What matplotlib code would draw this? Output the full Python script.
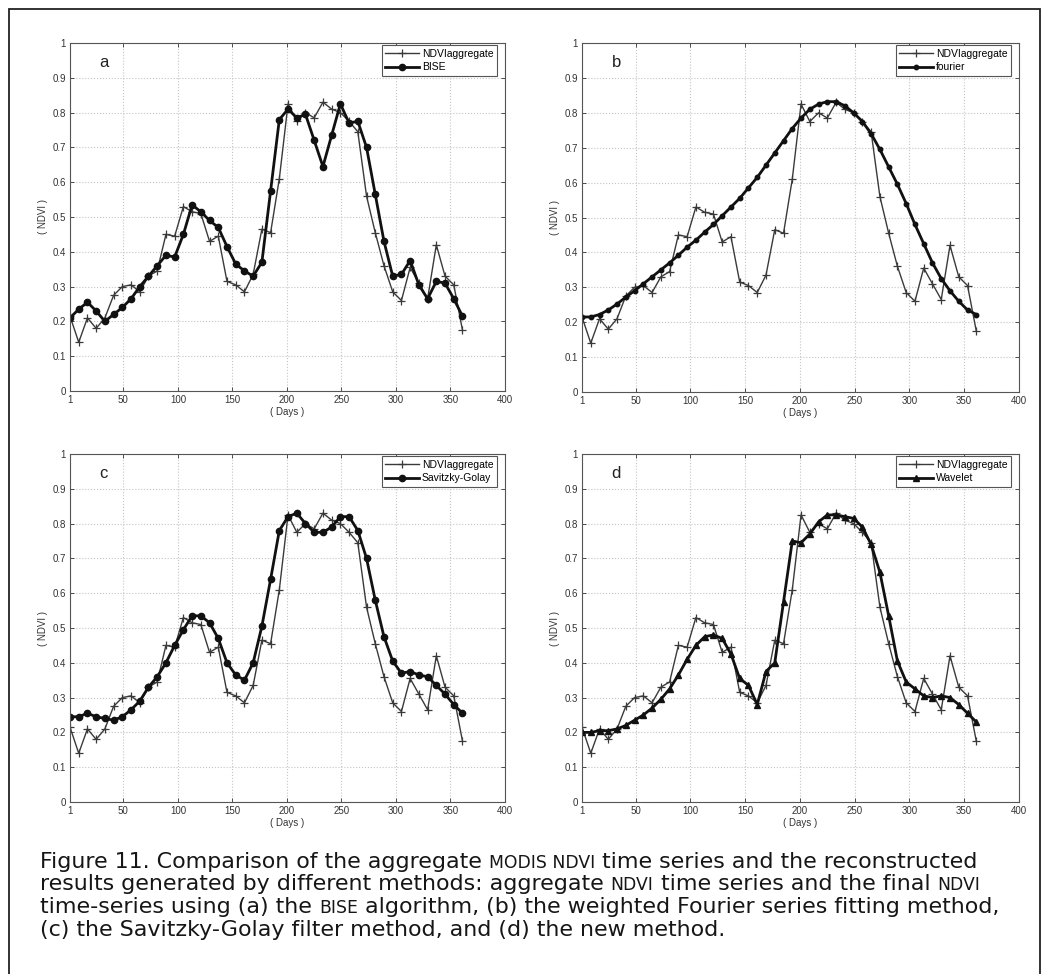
import matplotlib
matplotlib.use("Agg")
import matplotlib.pyplot as plt
import matplotlib.patches as patches
import numpy as np

# 8-day composites, day 1 .. 361
days = [1, 9, 17, 25, 33, 41, 49, 57, 65, 73, 81, 89, 97, 105, 113, 121,
        129, 137, 145, 153, 161, 169, 177, 185, 193, 201, 209, 217, 225, 233,
        241, 249, 257, 265, 273, 281, 289, 297, 305, 313, 321, 329, 337, 345,
        353, 361]

ndvi_aggregate = [0.215, 0.14, 0.21, 0.18, 0.21, 0.275, 0.30, 0.305, 0.285, 0.33,
                  0.345, 0.45, 0.445, 0.53, 0.515, 0.51, 0.43, 0.445, 0.315, 0.305,
                  0.285, 0.335, 0.465, 0.455, 0.61, 0.825, 0.775, 0.80, 0.785, 0.83,
                  0.81, 0.80, 0.775, 0.745, 0.56, 0.455, 0.36, 0.285, 0.26, 0.355,
                  0.31, 0.265, 0.42, 0.33, 0.305, 0.175]

bise = [0.21, 0.235, 0.255, 0.23, 0.20, 0.22, 0.24, 0.265, 0.30, 0.33,
        0.36, 0.39, 0.385, 0.45, 0.535, 0.515, 0.49, 0.47, 0.415, 0.365,
        0.345, 0.33, 0.37, 0.575, 0.78, 0.81, 0.785, 0.795, 0.72, 0.645,
        0.735, 0.825, 0.77, 0.775, 0.70, 0.565, 0.43, 0.33, 0.335, 0.375,
        0.305, 0.265, 0.315, 0.31, 0.265, 0.215]

fourier = [0.215, 0.215, 0.222, 0.235, 0.252, 0.272, 0.29, 0.31, 0.33, 0.35,
           0.37, 0.392, 0.415, 0.435, 0.458, 0.48, 0.505, 0.53, 0.555, 0.585,
           0.615, 0.65, 0.685, 0.72, 0.755, 0.785, 0.81, 0.825, 0.832, 0.832,
           0.82, 0.80, 0.775, 0.74, 0.695, 0.645, 0.595, 0.54, 0.48, 0.425,
           0.37, 0.325, 0.29, 0.26, 0.235, 0.222]

savgol = [0.245, 0.245, 0.255, 0.245, 0.24, 0.235, 0.245, 0.265, 0.29, 0.33,
          0.36, 0.40, 0.45, 0.495, 0.535, 0.535, 0.515, 0.47, 0.40, 0.365,
          0.35, 0.40, 0.505, 0.64, 0.78, 0.82, 0.83, 0.80, 0.775, 0.775,
          0.79, 0.82, 0.82, 0.78, 0.70, 0.58, 0.475, 0.405, 0.37, 0.375,
          0.365, 0.36, 0.335, 0.31, 0.28, 0.255]

wavelet = [0.20, 0.20, 0.205, 0.205, 0.21, 0.22, 0.235, 0.25, 0.27, 0.295,
           0.325, 0.365, 0.41, 0.45, 0.475, 0.48, 0.47, 0.425, 0.355, 0.335,
           0.28, 0.375, 0.40, 0.575, 0.75, 0.745, 0.77, 0.805, 0.825, 0.825,
           0.82, 0.815, 0.79, 0.74, 0.66, 0.535, 0.405, 0.345, 0.325, 0.305,
           0.30, 0.305, 0.30, 0.28, 0.255, 0.23]

panel_letters = ["a", "b", "c", "d"]
method_names = ["BISE", "fourier", "Savitzky-Golay", "Wavelet"]
method_markers = ["o", "o", "o", "^"]
method_msizes = [4.5, 3.2, 4.5, 4.5]
xticks = [1, 50, 100, 150, 200, 250, 300, 350, 400]
yticks = [0, 0.1, 0.2, 0.3, 0.4, 0.5, 0.6, 0.7, 0.8, 0.9, 1]
ytick_labels = ["0", "0.1", "0.2", "0.3", "0.4", "0.5", "0.6", "0.7", "0.8", "0.9", "1"]

caption_lines = [
    [("Figure 11. Comparison of the aggregate", False), ("MODIS NDVI", True),
     ("time series and the reconstructed", False)],
    [("results generated by different methods: aggregate", False), ("NDVI", True),
     ("time series and the final", False), ("NDVI", True)],
    [("time-series using (a) the", False), ("BISE", True),
     ("algorithm, (b) the weighted Fourier series fitting method,", False)],
    [("(c) the Savitzky-Golay filter method, and (d) the new method.", False)],
]

W, H = 1049, 974
fig = plt.figure(figsize=(W / 100, H / 100), dpi=100)
plt.rcParams['font.family'] = ['Liberation Sans', 'DejaVu Sans']

# outer frame
fig.patches.append(patches.Rectangle((9 / W, -0.01), (1040 - 9) / W, 1.01 - 9 / H,
                                     transform=fig.transFigure, fill=False,
                                     edgecolor="#222222", linewidth=1.3))

# axes boxes in pixels: left, right, top, bottom
boxes = [(70, 505, 43, 391), (582, 1019, 43, 392),
         (70, 505, 454, 802), (582, 1019, 454, 802)]
methods = [bise, fourier, savgol, wavelet]

for i in range(4):
    l, r, t, b = boxes[i]
    ax = fig.add_axes([l / W, 1 - b / H, (r - l) / W, (b - t) / H])
    ax.plot(days, ndvi_aggregate, color="#3a3a3a", linewidth=1.0, marker="+",
            markersize=6, markeredgewidth=0.9, label="NDVIaggregate")
    ax.plot(days, methods[i], color="#111111", linewidth=2.0,
            marker=method_markers[i], markersize=method_msizes[i],
            label=method_names[i])
    ax.set_xlim(1, 400)
    ax.set_ylim(0, 1)
    ax.set_xticks(xticks)
    ax.set_yticks(yticks)
    ax.set_yticklabels(ytick_labels)
    ax.tick_params(direction="in", length=3, width=0.6, labelsize=7,
                   colors="#333333", top=True, right=True, pad=3)
    ax.grid(True, linestyle=":", color="#c4c4c4", linewidth=0.8)
    for s in ax.spines.values():
        s.set_color("#555555")
        s.set_linewidth(0.8)
    ax.set_xlabel("( Days )", fontsize=7, color="#333333", labelpad=1)
    ax.set_ylabel("( NDVI )", fontsize=7, color="#333333", labelpad=3)
    ax.text(28, 0.943, panel_letters[i], fontsize=12, color="#222222",
            ha="left", va="center")
    leg = ax.legend(loc="upper right", bbox_to_anchor=(1 - 8 / (r - l), 1 - 2 / (b - t)),
                    borderaxespad=0, fontsize=7.5, fancybox=False,
                    edgecolor="#555555", framealpha=1, borderpad=0.35,
                    handlelength=3.2, handletextpad=0.3, labelspacing=0.35)
    leg.get_frame().set_linewidth(0.8)

# caption with small caps pieces, font size fitted so line 1 ends near x=978
cap_font = "DejaVu Sans"
renderer = fig.canvas.get_renderer()


def draw_line(segs, x_px, y_px, big, small, space_w, draw=True):
    items = []
    for text, is_small in segs:
        t = fig.text(x_px / W, 1 - y_px / H, text, fontsize=small if is_small else big,
                     family=cap_font, color="#161616", ha="left", va="baseline")
        x_px += t.get_window_extent(renderer).width + space_w
        items.append(t)
    if not draw:
        for t in items:
            t.remove()
    return x_px - space_w


def space_width(size):
    p1 = fig.text(0, 0, "x x", fontsize=size, family=cap_font)
    p2 = fig.text(0, 0, "xx", fontsize=size, family=cap_font)
    w = p1.get_window_extent(renderer).width - p2.get_window_extent(renderer).width
    p1.remove()
    p2.remove()
    return w


big = 15.0
end = draw_line(caption_lines[0], 40, 868, big, big * 0.78, space_width(big), draw=False)
big = big * (978 - 40) / (end - 40)
small = big * 0.78
sw = space_width(big)

y_px = 868
for line in caption_lines:
    draw_line(line, 40, y_px, big, small, sw)
    y_px += 22.5

fig.savefig("out.png", dpi=100)
